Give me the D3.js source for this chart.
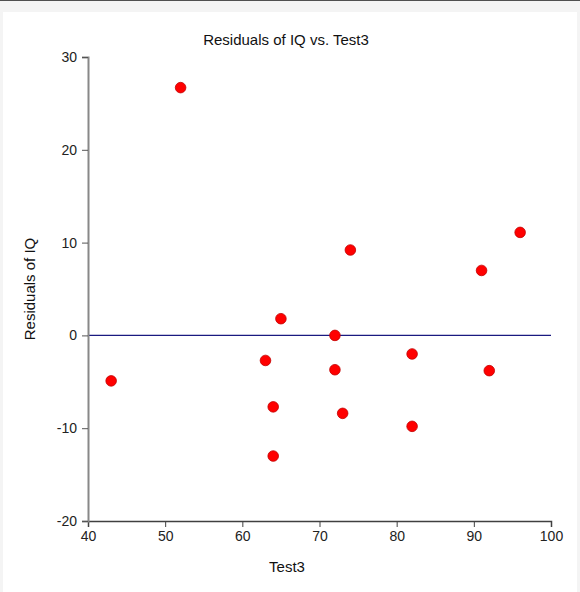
<!DOCTYPE html>
<html>
<head>
<meta charset="utf-8">
<script src="https://cdn.jsdelivr.net/npm/d3@7"></script>
<style>
  html, body { margin: 0; padding: 0; background: #f4f4f4; }
  svg { display: block; font-family: "Liberation Sans", Arial, sans-serif; }
</style>
</head>
<body>
<svg id="chart" width="580" height="592"></svg>
<script>
// data
const test3 = [52, 43, 63, 64, 64, 65, 72, 72, 73, 74, 82, 82, 91, 92, 96];
const residuals = [26.7, -4.9, -2.7, -7.7, -13.0, 1.8, 0.0, -3.7, -8.4, 9.2, -2.0, -9.8, 7.0, -3.8, 11.1];
const xTicks = [40, 50, 60, 70, 80, 90, 100];
const yTicks = [-20, -10, 0, 10, 20, 30];

const width = 580, height = 592;
const margin = { top: 57, right: 29, bottom: 71, left: 88 };

const svg = d3.select('#chart');

// page frame: gray backdrop, dark strip on top, white panel
svg.append('rect').attr('width', width).attr('height', height).attr('fill', '#f4f4f4');
svg.append('rect').attr('width', width).attr('height', 1).attr('fill', '#505050');
svg.append('rect')
  .attr('x', 3).attr('y', 12)
  .attr('width', 574).attr('height', height - 12)
  .attr('fill', '#ffffff');

const x = d3.scaleLinear().domain([40, 100]).range([margin.left, width - margin.right]);
const y = d3.scaleLinear().domain([-20, 30]).range([height - margin.bottom, margin.top]);

// zero reference line
svg.append('line')
  .attr('x1', x(40)).attr('x2', x(100))
  .attr('y1', y(0)).attr('y2', y(0))
  .attr('stroke', '#1a1a80').attr('stroke-width', 1.2);

// axes (plain hyphen for negatives, like the original)
const fmt = d => String(d);

const xAxis = svg.append('g')
  .attr('transform', `translate(0,${y(-20)})`)
  .call(d3.axisBottom(x).tickValues(xTicks).tickFormat(fmt).tickSize(6).tickPadding(4));
xAxis.select('.domain').attr('stroke', '#404040').attr('stroke-width', 1.5);
xAxis.selectAll('.tick line').attr('stroke', '#404040');
xAxis.selectAll('.tick text').attr('font-size', 14).attr('fill', '#222');

const yAxis = svg.append('g')
  .attr('transform', `translate(${x(40)},0)`)
  .call(d3.axisLeft(y).tickValues(yTicks).tickFormat(fmt).tickSize(6).tickPadding(5));
yAxis.select('.domain').attr('stroke', '#888').attr('stroke-width', 2);
yAxis.selectAll('.tick line').attr('stroke', '#555');
yAxis.selectAll('.tick text').attr('font-size', 14).attr('fill', '#222');

// points
svg.append('g')
  .selectAll('circle')
  .data(test3)
  .join('circle')
  .attr('cx', d => x(d))
  .attr('cy', (d, i) => y(residuals[i]))
  .attr('r', 5.3)
  .attr('fill', '#ff0000')
  .attr('stroke', '#c00000')
  .attr('stroke-width', 0.8);

// titles
svg.append('text')
  .attr('x', 286).attr('y', 45)
  .attr('text-anchor', 'middle')
  .attr('font-size', 15)
  .attr('fill', '#111')
  .text('Residuals of IQ vs. Test3');

svg.append('text')
  .attr('x', 287).attr('y', 572)
  .attr('text-anchor', 'middle')
  .attr('font-size', 15)
  .attr('fill', '#111')
  .text('Test3');

svg.append('text')
  .attr('transform', `translate(35,${(y(30) + y(-20)) / 2}) rotate(-90)`)
  .attr('text-anchor', 'middle')
  .attr('font-size', 15)
  .attr('fill', '#111')
  .text('Residuals of IQ');
</script>
</body>
</html>
